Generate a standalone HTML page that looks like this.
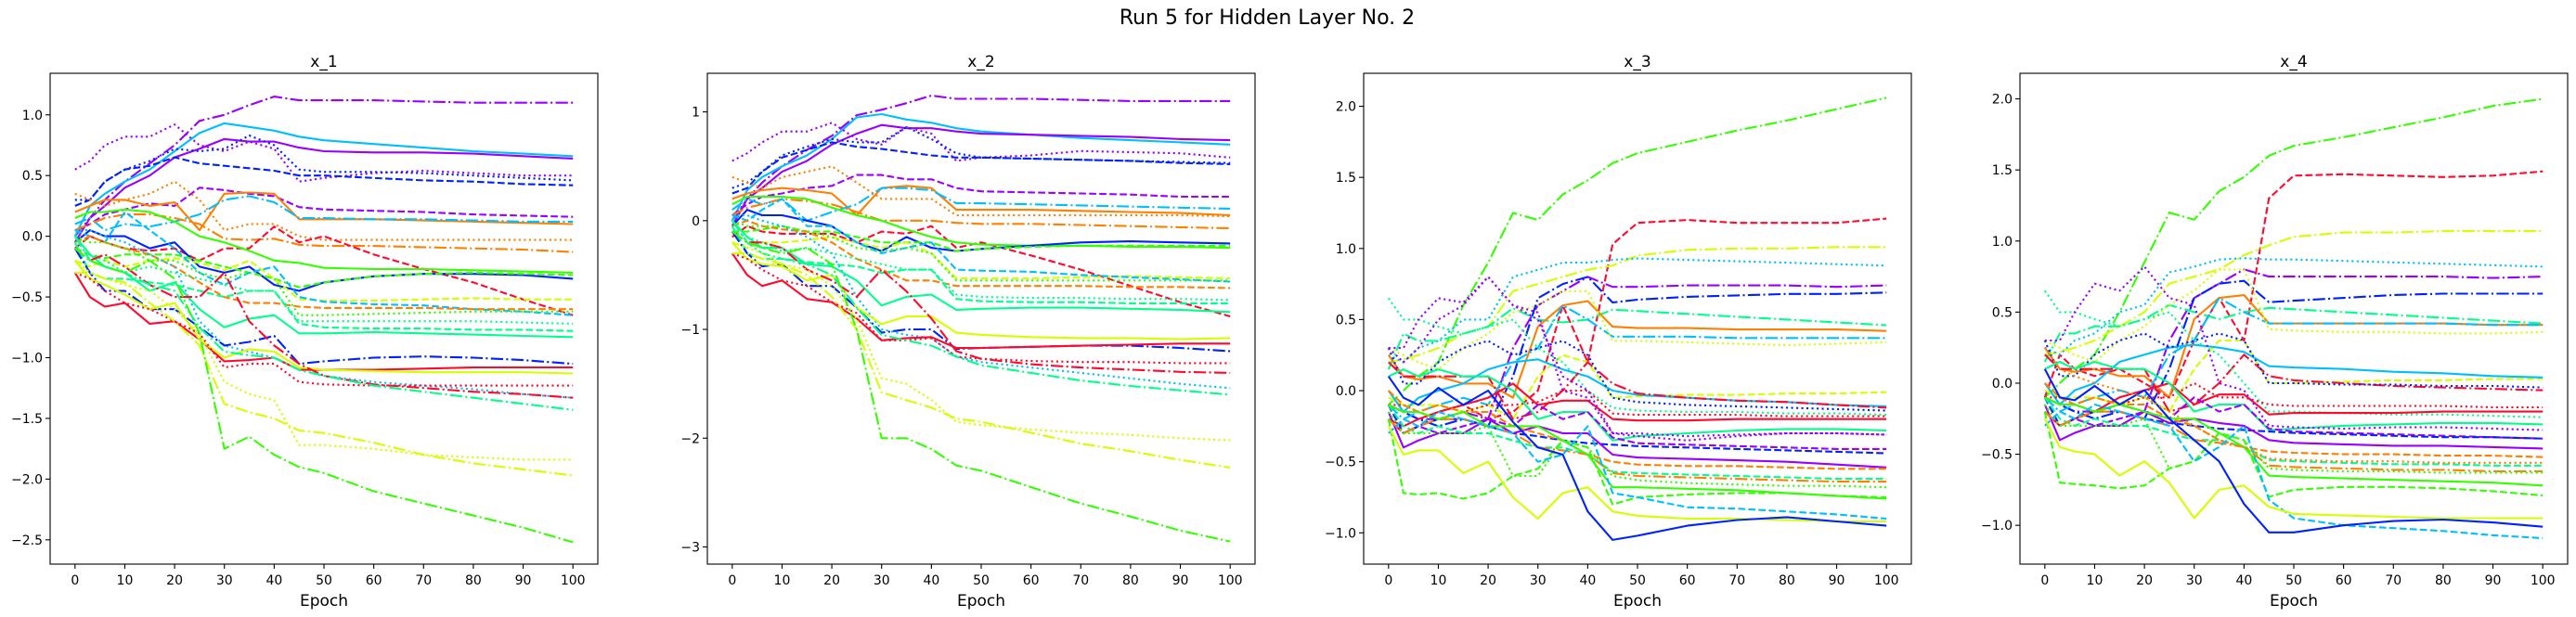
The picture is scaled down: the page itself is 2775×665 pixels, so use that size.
<!DOCTYPE html>
<html><head><meta charset="utf-8"><style>
html,body{margin:0;padding:0;background:#fff;}
svg{display:block;font-family:"DejaVu Sans","Liberation Sans",sans-serif;}
</style></head><body>
<svg id="fig" width="2775" height="665" viewBox="0 0 2775 665" xmlns="http://www.w3.org/2000/svg">
<rect width="2775" height="665" fill="#fff"/>
<text x="1365" y="26" font-size="22" text-anchor="middle" fill="#000">Run 5 for Hidden Layer No. 2</text>
</svg>
<script>
const epochs = [0,3,6,10,15,20,25,30,35,40,45,50,60,70,80,90,100];
const xTicks = [0,10,20,30,40,50,60,70,80,90,100];
const panelTitles = ["x_1","x_2","x_3","x_4"];
const yTicks1 = [-2.5,-2.0,-1.5,-1.0,-0.5,0.0,0.5,1.0];
const yTicks2 = [-3,-2,-1,0,1];
const yTicks3 = [-1.0,-0.5,0.0,0.5,1.0,1.5,2.0];
const yTicks4 = [-1.0,-0.5,0.0,0.5,1.0,1.5,2.0];
const yRange1 = [-2.70,1.342];
const yRange2 = [-3.158,1.355];
const yRange3 = [-1.22,2.232];
const yRange4 = [-1.273,2.18];
const colors = {red:"#ff0a2e",orange:"#ff8000",yellow:"#d4ff00",green:"#33ff00",spring:"#00ff8c",sky:"#00bfff",blue:"#0022ff",violet:"#9a00ff"};

const p1Colors = ["violet","sky","violet","violet","blue","blue","violet","orange","sky","orange","orange","red","green","blue","green","yellow","sky","orange","green","sky","spring","spring","spring","blue","red","yellow","red","red","spring","yellow","yellow","green"];
const p1Styles = ["dashdot","solid","solid","dotted","dotted","dashed","dashed","solid","dashdot","dotted","dashdot","dashed","solid","solid","dashed","dashed","dashed","dashed","dotted","dotted","dotted","dashed","solid","dashdot","solid","solid","dotted","dashdot","dashdot","dotted","dashdot","dashdot"];
const p1Values = [
[0,0.15,0.3,0.45,0.6,0.75,0.95,1.0,1.08,1.15,1.12,1.12,1.12,1.11,1.1,1.1,1.1],
[0,0.25,0.35,0.45,0.55,0.7,0.85,0.93,0.9,0.87,0.82,0.79,0.76,0.73,0.7,0.68,0.66],
[-0.05,0.15,0.25,0.4,0.5,0.65,0.72,0.8,0.78,0.78,0.73,0.7,0.69,0.69,0.68,0.66,0.64],
[0.55,0.62,0.75,0.82,0.82,0.92,0.75,0.7,0.78,0.72,0.45,0.48,0.52,0.54,0.52,0.5,0.5],
[0.3,0.3,0.45,0.55,0.62,0.72,0.7,0.72,0.83,0.75,0.55,0.53,0.53,0.52,0.5,0.48,0.46],
[0.25,0.3,0.45,0.55,0.58,0.65,0.6,0.58,0.56,0.54,0.5,0.5,0.48,0.46,0.45,0.43,0.42],
[0.05,0.1,0.18,0.22,0.27,0.25,0.4,0.38,0.35,0.33,0.24,0.22,0.21,0.2,0.18,0.17,0.16],
[0.2,0.25,0.3,0.3,0.25,0.28,0.05,0.35,0.36,0.35,0.14,0.14,0.14,0.13,0.12,0.11,0.1],
[0.1,0.15,0.05,0.1,0.08,0.12,0.18,0.3,0.33,0.28,0.15,0.15,0.14,0.14,0.13,0.12,0.12],
[0.35,0.3,0.25,0.3,0.35,0.45,0.3,0.05,0.1,0.1,0.0,-0.03,-0.03,-0.03,-0.03,-0.03,-0.03],
[0.05,0.1,0.15,0.18,0.18,0.15,0.1,-0.02,-0.03,-0.02,-0.07,-0.08,-0.08,-0.09,-0.1,-0.11,-0.13],
[-0.1,0.0,-0.05,-0.1,-0.12,-0.1,-0.2,-0.1,-0.1,0.08,-0.05,0.0,-0.15,-0.27,-0.38,-0.52,-0.65],
[0.15,0.2,0.2,0.22,0.2,0.12,0.0,-0.05,-0.12,-0.2,-0.22,-0.26,-0.27,-0.27,-0.28,-0.29,-0.3],
[-0.05,0.05,0.0,0.0,-0.1,-0.05,-0.25,-0.3,-0.25,-0.4,-0.45,-0.38,-0.33,-0.31,-0.31,-0.32,-0.35],
[-0.1,-0.15,-0.18,-0.15,-0.15,-0.15,-0.2,-0.25,-0.3,-0.35,-0.42,-0.38,-0.33,-0.31,-0.3,-0.31,-0.32],
[-0.2,-0.25,-0.2,-0.25,-0.2,-0.18,-0.22,-0.28,-0.2,-0.35,-0.52,-0.53,-0.53,-0.52,-0.51,-0.52,-0.52],
[0.05,0.0,-0.05,0.2,0.05,-0.1,-0.3,-0.4,-0.3,-0.25,-0.5,-0.54,-0.56,-0.57,-0.6,-0.62,-0.65],
[-0.05,0.0,-0.05,-0.1,-0.15,-0.25,-0.38,-0.5,-0.55,-0.55,-0.58,-0.59,-0.59,-0.59,-0.6,-0.6,-0.6],
[0.0,-0.05,-0.05,-0.1,-0.2,-0.2,-0.3,-0.35,-0.3,-0.35,-0.65,-0.65,-0.64,-0.63,-0.62,-0.62,-0.62],
[0.05,0.05,0.0,-0.05,-0.15,-0.25,-0.7,-0.9,-0.95,-1.0,-1.1,-1.15,-1.2,-1.23,-1.26,-1.3,-1.33],
[-0.1,-0.15,-0.2,-0.3,-0.25,-0.3,-0.35,-0.4,-0.45,-0.45,-0.7,-0.7,-0.7,-0.7,-0.7,-0.71,-0.72],
[-0.05,-0.3,-0.35,-0.35,-0.38,-0.4,-0.45,-0.5,-0.45,-0.45,-0.72,-0.75,-0.76,-0.76,-0.77,-0.77,-0.78],
[0.0,-0.15,-0.25,-0.3,-0.45,-0.38,-0.6,-0.75,-0.68,-0.65,-0.8,-0.8,-0.79,-0.8,-0.81,-0.82,-0.83],
[-0.1,-0.3,-0.45,-0.45,-0.6,-0.6,-0.75,-0.9,-0.87,-0.82,-1.05,-1.03,-1.0,-0.99,-1.0,-1.02,-1.05],
[-0.3,-0.5,-0.58,-0.55,-0.72,-0.7,-0.85,-1.03,-1.02,-1.0,-1.1,-1.1,-1.1,-1.09,-1.08,-1.08,-1.08],
[-0.2,-0.35,-0.4,-0.48,-0.6,-0.55,-0.85,-1.0,-0.93,-0.95,-1.08,-1.1,-1.11,-1.12,-1.12,-1.12,-1.13],
[-0.3,-0.35,-0.45,-0.55,-0.6,-0.7,-0.8,-1.08,-1.05,-1.05,-1.2,-1.22,-1.23,-1.23,-1.23,-1.23,-1.23],
[-0.1,-0.2,-0.15,-0.25,-0.4,-0.5,-0.5,-0.3,-0.7,-0.9,-1.05,-1.15,-1.22,-1.25,-1.28,-1.3,-1.33],
[0.0,-0.2,-0.25,-0.3,-0.4,-0.45,-0.75,-0.95,-0.98,-1.0,-1.1,-1.15,-1.23,-1.28,-1.33,-1.38,-1.43],
[-0.2,-0.3,-0.35,-0.4,-0.45,-0.6,-0.8,-1.2,-1.3,-1.35,-1.72,-1.72,-1.75,-1.8,-1.82,-1.84,-1.84],
[-0.3,-0.3,-0.35,-0.38,-0.55,-0.7,-0.9,-1.38,-1.45,-1.5,-1.6,-1.62,-1.7,-1.8,-1.87,-1.92,-1.97],
[-0.1,-0.2,-0.25,-0.3,-0.2,-0.35,-0.8,-1.75,-1.65,-1.8,-1.9,-1.95,-2.1,-2.2,-2.3,-2.4,-2.52]
];

const p2Colors = p1Colors;
const p2Styles = p1Styles;
const p2Values = [
[0,0.2,0.35,0.5,0.65,0.78,0.97,1.02,1.08,1.15,1.12,1.12,1.12,1.11,1.1,1.1,1.1],
[0,0.28,0.4,0.5,0.6,0.75,0.95,0.98,0.93,0.9,0.85,0.82,0.79,0.76,0.74,0.72,0.7],
[-0.05,0.2,0.3,0.45,0.55,0.7,0.8,0.88,0.85,0.85,0.82,0.8,0.79,0.78,0.77,0.75,0.74],
[0.55,0.62,0.72,0.82,0.82,0.9,0.75,0.7,0.86,0.8,0.55,0.58,0.6,0.64,0.63,0.62,0.58],
[0.3,0.35,0.45,0.6,0.68,0.75,0.72,0.72,0.86,0.75,0.62,0.58,0.57,0.56,0.55,0.54,0.53],
[0.25,0.3,0.45,0.58,0.65,0.72,0.68,0.66,0.63,0.6,0.58,0.58,0.57,0.56,0.55,0.53,0.52],
[0.05,0.15,0.22,0.25,0.3,0.32,0.42,0.42,0.38,0.38,0.3,0.27,0.26,0.25,0.24,0.22,0.22],
[0.2,0.25,0.28,0.3,0.28,0.25,0.05,0.3,0.32,0.3,0.1,0.1,0.1,0.09,0.08,0.07,0.05],
[0.1,0.2,0.15,0.2,0.0,0.08,0.15,0.3,0.3,0.28,0.16,0.16,0.15,0.14,0.13,0.12,0.11],
[0.4,0.35,0.3,0.4,0.45,0.5,0.35,0.2,0.2,0.2,0.05,0.05,0.05,0.05,0.05,0.05,0.04],
[0.05,0.12,0.15,0.2,0.18,0.15,0.08,0.0,0.0,0.0,-0.02,-0.03,-0.03,-0.04,-0.05,-0.06,-0.07],
[-0.15,-0.05,-0.1,-0.12,-0.12,-0.12,-0.2,-0.1,-0.12,-0.05,-0.25,-0.2,-0.32,-0.45,-0.6,-0.75,-0.88],
[0.15,0.22,0.22,0.22,0.2,0.12,0.05,0.0,-0.08,-0.15,-0.2,-0.22,-0.23,-0.23,-0.24,-0.24,-0.25],
[-0.05,0.1,0.05,0.05,0.0,-0.05,-0.2,-0.28,-0.15,-0.25,-0.28,-0.26,-0.23,-0.2,-0.19,-0.2,-0.21],
[-0.1,-0.1,-0.08,-0.05,-0.1,-0.1,-0.15,-0.2,-0.2,-0.2,-0.28,-0.26,-0.24,-0.23,-0.23,-0.23,-0.23],
[-0.2,-0.25,-0.2,-0.2,-0.18,-0.15,-0.2,-0.25,-0.2,-0.3,-0.53,-0.53,-0.53,-0.52,-0.51,-0.52,-0.53],
[0.05,0.0,0.1,0.2,-0.05,-0.05,-0.2,-0.3,-0.25,-0.2,-0.45,-0.46,-0.47,-0.5,-0.52,-0.54,-0.56],
[-0.05,0.0,-0.05,-0.08,-0.1,-0.2,-0.35,-0.45,-0.55,-0.55,-0.6,-0.6,-0.6,-0.6,-0.61,-0.61,-0.62],
[0.0,-0.05,-0.05,-0.05,-0.1,-0.15,-0.25,-0.28,-0.25,-0.3,-0.55,-0.55,-0.55,-0.55,-0.55,-0.55,-0.55],
[0.05,0.05,0.0,-0.05,-0.15,-0.3,-0.7,-1.0,-1.05,-1.08,-1.25,-1.3,-1.35,-1.4,-1.45,-1.5,-1.54],
[-0.1,-0.15,-0.2,-0.28,-0.25,-0.3,-0.35,-0.4,-0.45,-0.45,-0.68,-0.7,-0.71,-0.71,-0.72,-0.72,-0.73],
[-0.05,-0.3,-0.35,-0.35,-0.38,-0.4,-0.42,-0.48,-0.45,-0.45,-0.72,-0.74,-0.75,-0.75,-0.76,-0.76,-0.76],
[0.0,-0.15,-0.25,-0.25,-0.4,-0.42,-0.55,-0.78,-0.7,-0.68,-0.82,-0.81,-0.8,-0.8,-0.81,-0.82,-0.84],
[-0.1,-0.3,-0.42,-0.4,-0.6,-0.6,-0.8,-1.03,-1.0,-1.0,-1.18,-1.17,-1.16,-1.15,-1.15,-1.17,-1.2],
[-0.3,-0.5,-0.6,-0.55,-0.72,-0.75,-0.9,-1.1,-1.08,-1.07,-1.17,-1.17,-1.16,-1.15,-1.14,-1.13,-1.13],
[-0.2,-0.35,-0.4,-0.42,-0.55,-0.5,-0.8,-0.95,-0.88,-0.88,-1.03,-1.05,-1.07,-1.08,-1.08,-1.09,-1.08],
[-0.3,-0.35,-0.45,-0.55,-0.6,-0.75,-0.85,-1.1,-1.1,-1.08,-1.25,-1.27,-1.29,-1.3,-1.3,-1.31,-1.31],
[-0.1,-0.2,-0.2,-0.25,-0.45,-0.55,-0.7,-0.45,-0.65,-0.9,-1.2,-1.27,-1.32,-1.35,-1.37,-1.39,-1.4],
[0.0,-0.2,-0.3,-0.35,-0.4,-0.5,-0.8,-1.05,-1.1,-1.15,-1.25,-1.33,-1.4,-1.47,-1.52,-1.56,-1.6],
[-0.2,-0.25,-0.3,-0.4,-0.45,-0.6,-0.9,-1.45,-1.5,-1.65,-1.85,-1.88,-1.92,-1.95,-1.97,-2.0,-2.02],
[-0.3,-0.3,-0.35,-0.4,-0.5,-0.7,-1.0,-1.58,-1.65,-1.72,-1.82,-1.85,-1.95,-2.05,-2.12,-2.2,-2.27],
[-0.1,-0.2,-0.25,-0.3,-0.25,-0.4,-1.0,-2.0,-2.0,-2.1,-2.25,-2.3,-2.45,-2.6,-2.72,-2.85,-2.95]
];

const p3Colors = ["green","red","yellow","sky","violet","blue","spring","orange","sky","yellow","yellow","sky","red","blue","spring","red","red","spring","violet","violet","blue","violet","orange","spring","orange","green","green","green","sky","yellow","blue","violet"];
const p3Styles = ["dashdot","dashed","dashdot","dotted","dashdot","dashdot","dashdot","solid","dashdot","dotted","dashed","solid","dashdot","dotted","dotted","dotted","solid","solid","dotted","dashed","dashed","solid","dashed","dashed","dashdot","dotted","solid","dashed","dashed","solid","solid","dotted"];
const p3Values = [
[-0.1,0.0,0.1,0.2,0.6,0.9,1.25,1.2,1.38,1.48,1.6,1.67,1.75,1.83,1.9,1.98,2.06],
[-0.2,-0.3,-0.25,-0.15,-0.1,-0.2,-0.15,0.0,0.6,0.2,1.03,1.18,1.2,1.18,1.18,1.18,1.21],
[0.2,0.22,0.25,0.3,0.4,0.45,0.7,0.75,0.8,0.85,0.88,0.95,0.99,1.0,1.0,1.01,1.01],
[0.25,0.2,0.3,0.35,0.5,0.5,0.8,0.85,0.9,0.9,0.92,0.93,0.92,0.91,0.9,0.89,0.88],
[-0.1,-0.15,-0.2,-0.2,-0.15,-0.2,0.3,0.6,0.7,0.8,0.73,0.73,0.74,0.74,0.74,0.73,0.74],
[-0.1,-0.15,-0.2,-0.25,-0.2,-0.25,0.1,0.65,0.75,0.8,0.62,0.64,0.66,0.67,0.68,0.68,0.69],
[0.15,0.4,0.35,0.35,0.4,0.45,0.58,0.5,0.48,0.5,0.57,0.56,0.54,0.52,0.5,0.48,0.46],
[0.25,0.1,0.08,0.1,0.05,0.05,-0.05,0.45,0.6,0.63,0.45,0.44,0.44,0.43,0.43,0.43,0.42],
[-0.1,-0.2,-0.15,-0.1,-0.05,-0.1,0.2,0.3,0.6,0.5,0.38,0.38,0.38,0.37,0.37,0.37,0.37],
[0.3,0.25,0.2,0.15,0.3,0.4,0.55,0.6,0.7,0.7,0.35,0.35,0.34,0.33,0.32,0.33,0.34],
[-0.05,-0.1,-0.1,-0.1,-0.15,-0.1,-0.2,0.1,0.25,0.2,-0.05,-0.04,-0.03,-0.03,-0.02,-0.02,-0.01],
[0.0,-0.15,-0.05,0.0,0.05,0.15,0.2,0.22,0.15,0.1,0.0,-0.03,-0.05,-0.07,-0.08,-0.1,-0.11],
[0.2,0.1,0.1,0.1,0.1,0.1,-0.2,-0.15,0.0,0.2,0.05,-0.02,-0.05,-0.07,-0.08,-0.1,-0.12],
[0.3,0.05,0.05,0.2,0.3,0.35,0.25,0.3,0.35,0.25,-0.05,-0.08,-0.1,-0.11,-0.12,-0.13,-0.14],
[0.65,0.5,0.5,0.45,0.4,0.45,0.5,0.3,0.2,0.0,-0.12,-0.14,-0.15,-0.15,-0.16,-0.16,-0.17],
[-0.1,-0.1,-0.15,-0.2,-0.15,-0.1,-0.1,-0.08,0.0,0.0,-0.16,-0.17,-0.17,-0.17,-0.18,-0.18,-0.18],
[-0.2,-0.25,-0.2,-0.15,-0.1,-0.05,0.05,-0.1,-0.07,-0.07,-0.2,-0.21,-0.21,-0.2,-0.2,-0.2,-0.2],
[0.1,0.15,0.1,0.15,0.1,0.1,0.0,-0.2,-0.15,-0.15,-0.35,-0.32,-0.3,-0.28,-0.27,-0.27,-0.28],
[0.3,0.3,0.5,0.65,0.62,0.8,0.6,0.55,0.0,-0.05,-0.3,-0.32,-0.35,-0.32,-0.3,-0.3,-0.31],
[-0.1,-0.3,-0.25,-0.3,-0.25,-0.2,-0.25,-0.1,-0.2,-0.15,-0.33,-0.37,-0.38,-0.39,-0.4,-0.41,-0.41],
[-0.1,-0.3,-0.25,-0.2,-0.2,-0.25,-0.3,-0.32,-0.35,-0.37,-0.38,-0.39,-0.4,-0.41,-0.42,-0.43,-0.44],
[-0.15,-0.4,-0.35,-0.3,-0.3,-0.2,-0.3,-0.25,-0.3,-0.3,-0.45,-0.47,-0.48,-0.49,-0.5,-0.52,-0.54],
[0.0,-0.1,-0.15,-0.1,-0.15,-0.15,-0.25,-0.3,-0.35,-0.45,-0.5,-0.52,-0.53,-0.53,-0.54,-0.55,-0.55],
[-0.1,-0.25,-0.3,-0.25,-0.3,-0.3,-0.35,-0.4,-0.4,-0.45,-0.57,-0.58,-0.59,-0.6,-0.61,-0.62,-0.62],
[-0.2,-0.3,-0.25,-0.2,-0.2,-0.25,-0.3,-0.4,-0.42,-0.45,-0.58,-0.6,-0.61,-0.62,-0.63,-0.64,-0.64],
[-0.15,-0.3,-0.3,-0.3,-0.3,-0.25,-0.6,-0.6,-0.35,-0.4,-0.6,-0.63,-0.65,-0.66,-0.67,-0.67,-0.68],
[-0.1,-0.15,-0.15,-0.2,-0.15,-0.25,-0.25,-0.25,-0.35,-0.45,-0.68,-0.68,-0.69,-0.7,-0.72,-0.74,-0.76],
[-0.2,-0.72,-0.73,-0.72,-0.76,-0.72,-0.6,-0.55,-0.35,-0.4,-0.8,-0.75,-0.73,-0.72,-0.72,-0.74,-0.75],
[-0.3,-0.2,-0.25,-0.15,-0.2,-0.25,-0.3,-0.5,-0.45,-0.25,-0.72,-0.75,-0.82,-0.83,-0.85,-0.87,-0.9],
[-0.25,-0.45,-0.42,-0.42,-0.58,-0.5,-0.75,-0.9,-0.72,-0.68,-0.85,-0.88,-0.9,-0.9,-0.91,-0.92,-0.92],
[0.1,-0.05,-0.1,0.02,-0.1,0.0,-0.22,-0.4,-0.45,-0.85,-1.05,-1.02,-0.95,-0.91,-0.89,-0.92,-0.95],
[0.3,0.2,0.3,0.5,0.6,0.8,0.6,0.5,0.1,0.0,-0.3,-0.3,-0.32,-0.31,-0.3,-0.3,-0.31]
];

const p4Colors = ["green","red","yellow","sky","violet","blue","spring","orange","sky","yellow","yellow","sky","red","blue","spring","red","red","spring","violet","violet","blue","violet","orange","spring","orange","green","green","green","sky","yellow","blue","orange"];
const p4Styles = ["dashdot","dashed","dashdot","dotted","dashdot","dashdot","dashdot","solid","dashdot","dotted","dashed","solid","dashdot","dotted","dotted","dotted","solid","solid","dotted","dashed","dashed","solid","dashed","dashed","dashdot","dotted","solid","dashed","dashed","solid","solid","dotted"];
const p4Values = [
[-0.1,0.0,0.1,0.2,0.5,0.85,1.2,1.15,1.35,1.45,1.6,1.67,1.73,1.8,1.87,1.95,2.0],
[-0.1,0.2,0.1,0.05,0.1,0.0,-0.1,0.3,0.6,0.3,1.3,1.46,1.47,1.46,1.45,1.46,1.49],
[0.2,0.22,0.25,0.3,0.4,0.5,0.7,0.75,0.8,0.9,0.97,1.03,1.06,1.06,1.07,1.07,1.07],
[0.25,0.2,0.3,0.35,0.5,0.55,0.78,0.82,0.87,0.88,0.87,0.87,0.86,0.85,0.84,0.83,0.82],
[-0.1,-0.15,-0.2,-0.2,-0.15,-0.2,0.3,0.6,0.7,0.8,0.75,0.75,0.75,0.75,0.75,0.74,0.75],
[-0.1,-0.15,-0.2,-0.25,-0.2,-0.25,0.1,0.6,0.7,0.72,0.57,0.58,0.6,0.62,0.63,0.63,0.63],
[0.15,0.35,0.35,0.4,0.4,0.45,0.55,0.5,0.45,0.5,0.53,0.52,0.5,0.48,0.46,0.44,0.42],
[0.25,0.1,0.08,0.1,0.05,0.05,-0.1,0.45,0.6,0.62,0.42,0.42,0.42,0.42,0.42,0.41,0.41],
[-0.1,-0.2,-0.15,-0.1,-0.05,-0.1,0.2,0.3,0.6,0.5,0.42,0.42,0.42,0.42,0.42,0.41,0.41],
[0.3,0.25,0.2,0.15,0.3,0.4,0.55,0.65,0.8,0.8,0.38,0.37,0.36,0.36,0.35,0.35,0.36],
[-0.05,-0.1,-0.1,-0.1,-0.15,-0.1,-0.2,0.1,0.3,0.3,0.0,0.0,0.01,0.02,0.02,0.03,0.03],
[0.0,-0.15,-0.05,0.0,0.15,0.2,0.25,0.27,0.25,0.22,0.12,0.11,0.1,0.08,0.07,0.05,0.04],
[0.2,0.1,0.1,0.1,0.1,0.1,-0.2,-0.15,0.0,0.2,0.05,0.02,0.0,-0.02,-0.03,-0.04,-0.05],
[0.3,0.05,0.05,0.2,0.3,0.35,0.25,0.3,0.35,0.3,0.0,0.0,-0.01,-0.01,-0.02,-0.02,-0.03],
[0.65,0.5,0.5,0.45,0.4,0.45,0.5,0.3,0.2,0.0,-0.2,-0.2,-0.21,-0.22,-0.22,-0.23,-0.24],
[-0.1,-0.1,-0.15,-0.2,-0.15,-0.1,-0.1,0.0,-0.1,-0.1,-0.15,-0.16,-0.16,-0.16,-0.16,-0.17,-0.17],
[-0.2,-0.3,-0.25,-0.2,-0.1,-0.05,0.0,-0.15,-0.08,-0.08,-0.22,-0.21,-0.21,-0.21,-0.2,-0.2,-0.2],
[0.1,0.15,0.1,0.15,0.1,0.1,0.0,-0.2,-0.15,-0.15,-0.33,-0.32,-0.3,-0.29,-0.28,-0.28,-0.29],
[0.3,0.3,0.5,0.7,0.65,0.82,0.6,0.55,0.0,-0.05,-0.3,-0.31,-0.32,-0.31,-0.31,-0.32,-0.33],
[-0.1,-0.3,-0.25,-0.3,-0.25,-0.2,-0.25,-0.1,-0.2,-0.15,-0.32,-0.34,-0.35,-0.36,-0.37,-0.38,-0.39],
[-0.1,-0.3,-0.25,-0.2,-0.2,-0.25,-0.28,-0.3,-0.32,-0.33,-0.34,-0.35,-0.36,-0.37,-0.38,-0.38,-0.39],
[-0.15,-0.4,-0.35,-0.3,-0.3,-0.2,-0.28,-0.25,-0.28,-0.3,-0.4,-0.42,-0.43,-0.44,-0.44,-0.45,-0.46],
[0.0,-0.1,-0.15,-0.1,-0.15,-0.15,-0.25,-0.3,-0.4,-0.45,-0.48,-0.49,-0.5,-0.5,-0.51,-0.51,-0.52],
[-0.1,-0.25,-0.3,-0.25,-0.3,-0.3,-0.35,-0.4,-0.4,-0.45,-0.54,-0.55,-0.56,-0.57,-0.57,-0.58,-0.58],
[-0.2,-0.3,-0.25,-0.2,-0.2,-0.25,-0.3,-0.4,-0.42,-0.45,-0.58,-0.59,-0.6,-0.61,-0.61,-0.62,-0.62],
[-0.15,-0.3,-0.3,-0.3,-0.3,-0.25,-0.6,-0.55,-0.35,-0.4,-0.6,-0.61,-0.62,-0.62,-0.63,-0.63,-0.63],
[-0.1,-0.15,-0.15,-0.2,-0.15,-0.2,-0.25,-0.25,-0.35,-0.45,-0.65,-0.66,-0.67,-0.68,-0.69,-0.7,-0.72],
[-0.2,-0.7,-0.71,-0.72,-0.74,-0.72,-0.6,-0.55,-0.35,-0.4,-0.8,-0.75,-0.73,-0.73,-0.74,-0.76,-0.79],
[-0.3,-0.2,-0.25,-0.15,-0.2,-0.25,-0.3,-0.55,-0.45,-0.3,-0.82,-0.95,-1.0,-1.02,-1.04,-1.07,-1.09],
[-0.25,-0.45,-0.48,-0.5,-0.65,-0.55,-0.7,-0.95,-0.75,-0.72,-0.87,-0.92,-0.93,-0.94,-0.95,-0.95,-0.95],
[0.1,-0.1,-0.12,-0.02,-0.15,-0.05,-0.25,-0.4,-0.55,-0.85,-1.05,-1.05,-1.0,-0.97,-0.96,-0.98,-1.01],
[0.25,0.1,0.05,0.0,-0.05,-0.1,-0.2,-0.3,-0.4,-0.45,-0.53,-0.54,-0.55,-0.55,-0.56,-0.56,-0.56]
];

const panels = [
  {left:54, colors:p1Colors, styles:p1Styles, values:p1Values, ticks:yTicks1, range:yRange1, dec:1},
  {left:762, colors:p2Colors, styles:p2Styles, values:p2Values, ticks:yTicks2, range:yRange2, dec:0},
  {left:1469, colors:p3Colors, styles:p3Styles, values:p3Values, ticks:yTicks3, range:yRange3, dec:1},
  {left:2176, colors:p4Colors, styles:p4Styles, values:p4Values, ticks:yTicks4, range:yRange4, dec:1}
];
const W = 590, TOP = 79, BOT = 608;
const dashes = {solid:"", dashed:"7.7,3.3", dashdot:"13.3,3.3,2.1,3.3", dotted:"2.1,3.4"};
const NS = "http://www.w3.org/2000/svg";
const svg = document.getElementById("fig");
function mk(tag, attrs, parent){const e=document.createElementNS(NS,tag);for(const k in attrs)e.setAttribute(k,attrs[k]);(parent||svg).appendChild(e);return e;}
function fmt(v,d){const s=Math.abs(v).toFixed(d);return (v<0?"\u2212":"")+s;}

panels.forEach((p,pi)=>{
  const xs = x => p.left + (x+5)/110*W;
  const ys = y => BOT - (y-p.range[0])/(p.range[1]-p.range[0])*(BOT-TOP);
  const g = mk("g",{});
  
  
  const clip = mk("clipPath",{id:"clip"+pi}, g);
  mk("rect",{x:p.left,y:TOP,width:W,height:BOT-TOP},clip);
  const lines = mk("g",{"clip-path":"url(#clip"+pi+")"},g);
  
  
  p.values.forEach((vals,si)=>{
    const pts = vals.map((v,i)=>xs(epochs[i]).toFixed(1)+","+ys(v).toFixed(1)).join(" ");
    const pl = mk("polyline",{points:pts,fill:"none",stroke:colors[p.colors[si]],"stroke-width":"2.1","stroke-linejoin":"round"},lines);
    if(dashes[p.styles[si]]) pl.setAttribute("stroke-dasharray",dashes[p.styles[si]]);
    
    
  });
  const frame = mk("rect",{x:p.left,y:TOP,width:W,height:BOT-TOP,fill:"none",stroke:"#000","stroke-width":"1.1"},g);
  
  
  xTicks.forEach(t=>{
    const x = xs(t);
    const tk = mk("line",{x1:x,x2:x,y1:BOT,y2:BOT+5,stroke:"#000","stroke-width":"1.1"},g);
    
    
    const tl = mk("text",{x:x,y:BOT+22,"font-size":"14","text-anchor":"middle"},g);
    tl.textContent = String(t);
    
    
  });
  p.ticks.forEach(t=>{
    const y = ys(t);
    const tk = mk("line",{x1:p.left-5,x2:p.left,y1:y,y2:y,stroke:"#000","stroke-width":"1.1"},g);
    
    
    const tl = mk("text",{x:p.left-8,y:y+5,"font-size":"14","text-anchor":"end"},g);
    tl.textContent = fmt(t,p.dec);
    
    
  });
  const ti = mk("text",{x:p.left+W/2,y:TOP-7,"font-size":"17","text-anchor":"middle"},g);
  ti.textContent = panelTitles[pi];
  
  
  const xl = mk("text",{x:p.left+W/2,y:BOT+45,"font-size":"17","text-anchor":"middle"},g);
  xl.textContent = "Epoch";
  
  
});
</script>
</body></html>
